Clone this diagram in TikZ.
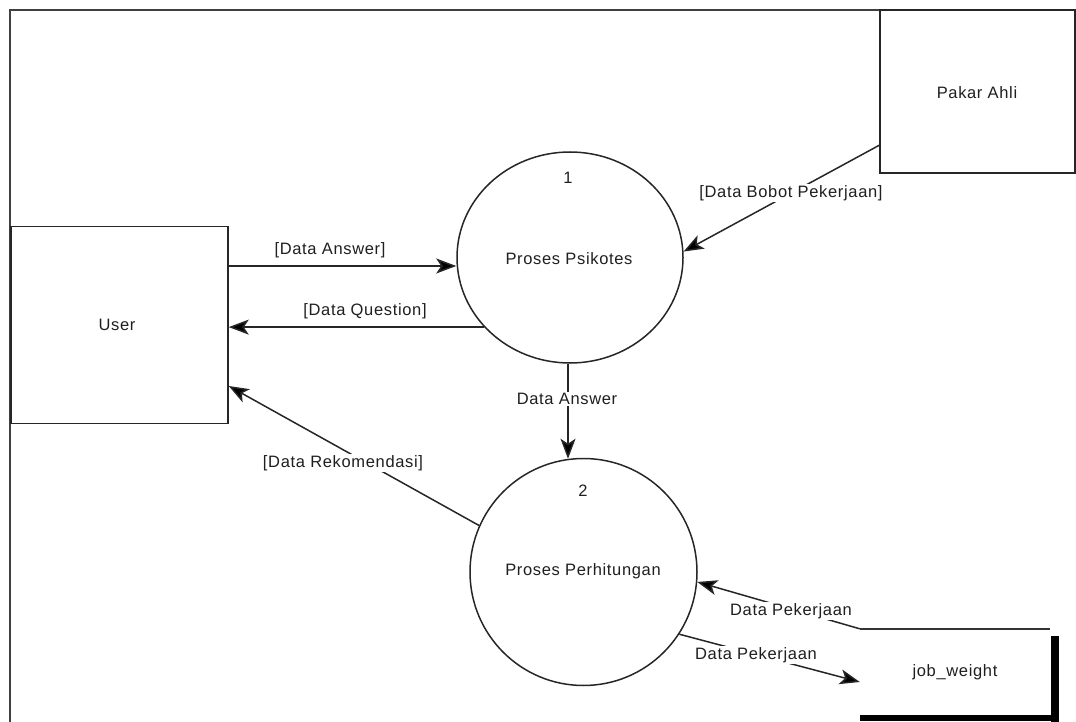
\documentclass[tikz,border=0pt]{standalone}
\usepackage{fontspec}
\setmainfont{Liberation Sans}[LetterSpace=4]
\usetikzlibrary{arrows.meta,shapes.geometric}
\begin{document}
\begin{tikzpicture}[x=1pt,y=-1pt,
  every node/.style={font=\fontsize{16.5}{19}\selectfont, text=black!88},
  ent/.style={draw=black!85, line width=1.5pt, rectangle, inner sep=0pt},
  proc/.style={draw=black!85, line width=1.5pt, ellipse, inner sep=0pt},
  txt/.style={inner sep=0pt},
  lbl/.style={fill=white, inner sep=1.5pt},
  flow/.style={draw=black!85, line width=1.5pt, -{Stealth[length=20pt,width=15pt,inset=5pt,fill=black]}},
  thick bar/.style={draw=black}
]
\useasboundingbox (0,0) rectangle (1076,722);
\clip (0,0) rectangle (1076,722);
% frame
\draw[draw=black!75, line width=2pt] (10,730) -- (10,10) -- (1090,10);

% entities and processes
\node[ent, minimum width=217pt, minimum height=197pt] (user) at (119.5,325) {};
\node[txt] (usert) at (117,325) {User};
\node[ent, minimum width=195pt, minimum height=163pt] (pakar) at (977.5,91.5) {};
\node[txt] (pakart) at (977,93) {Pakar Ahli};
\node[proc, minimum width=226pt, minimum height=211pt] (p1) at (570,257.5) {};
\node[txt] (p1n) at (568,178) {1};
\node[txt] (p1t) at (569,259) {Proses Psikotes};
\node[proc, minimum width=227pt, minimum height=227pt] (p2) at (583.5,572) {};
\node[txt] (p2n) at (583,491) {2};
\node[txt] (p2t) at (583,571) {Proses Perhitungan};

% data store
\node[minimum width=190pt, minimum height=88pt, inner sep=0pt] (job) at (955,673) {};
\node[txt] (jobt) at (955,672) {job\_weight};
\draw[draw=black!80, line width=1.5pt] (job.north west) -- (job.north east);
\draw[thick bar, line width=8pt] ([xshift=5pt,yshift=-7pt]job.north east) -- ([xshift=5pt,yshift=-6pt]job.south east);
\draw[thick bar, line width=6pt] ([yshift=-1pt]job.south west) -- ([xshift=9pt,yshift=-1pt]job.south east);

% helper coordinates
\coordinate (ya) at (0,266);
\coordinate (yr) at (0,386);
\coordinate (xa) at (568,0);

% flows
\draw[flow] (user.east |- ya) -- (p1.west |- ya);
\draw[flow] (p1.219) -- (user.east |- p1.219);
\draw[flow] ([yshift=-136pt]pakar.north west) -- (p1.3);
\draw[flow] (xa |- p1.south) -- ([yshift=-1pt]xa |- p2.north);
\draw[flow] (p2.156) -- (user.east |- yr);
\draw[flow] (job.north west) -- (p2.-5);
\draw[flow] (p2.-33) -- ([yshift=-9pt]job.west);

% labels
\node[txt] (l1) at (330,250) {[Data Answer]};
\node[txt] (l2) at (365,311) {[Data Question]};
\node[lbl] (l3) at (567,399) {Data Answer};
\node[lbl] (l4) at (343,463) {[Data Rekomendasi]};
\node[lbl] (l5) at (791,193) {[Data Bobot Pekerjaan]};
\node[lbl] (l6) at (791,611) {Data Pekerjaan};
\node[lbl] (l7) at (756,655) {Data Pekerjaan};
\end{tikzpicture}
\end{document}
